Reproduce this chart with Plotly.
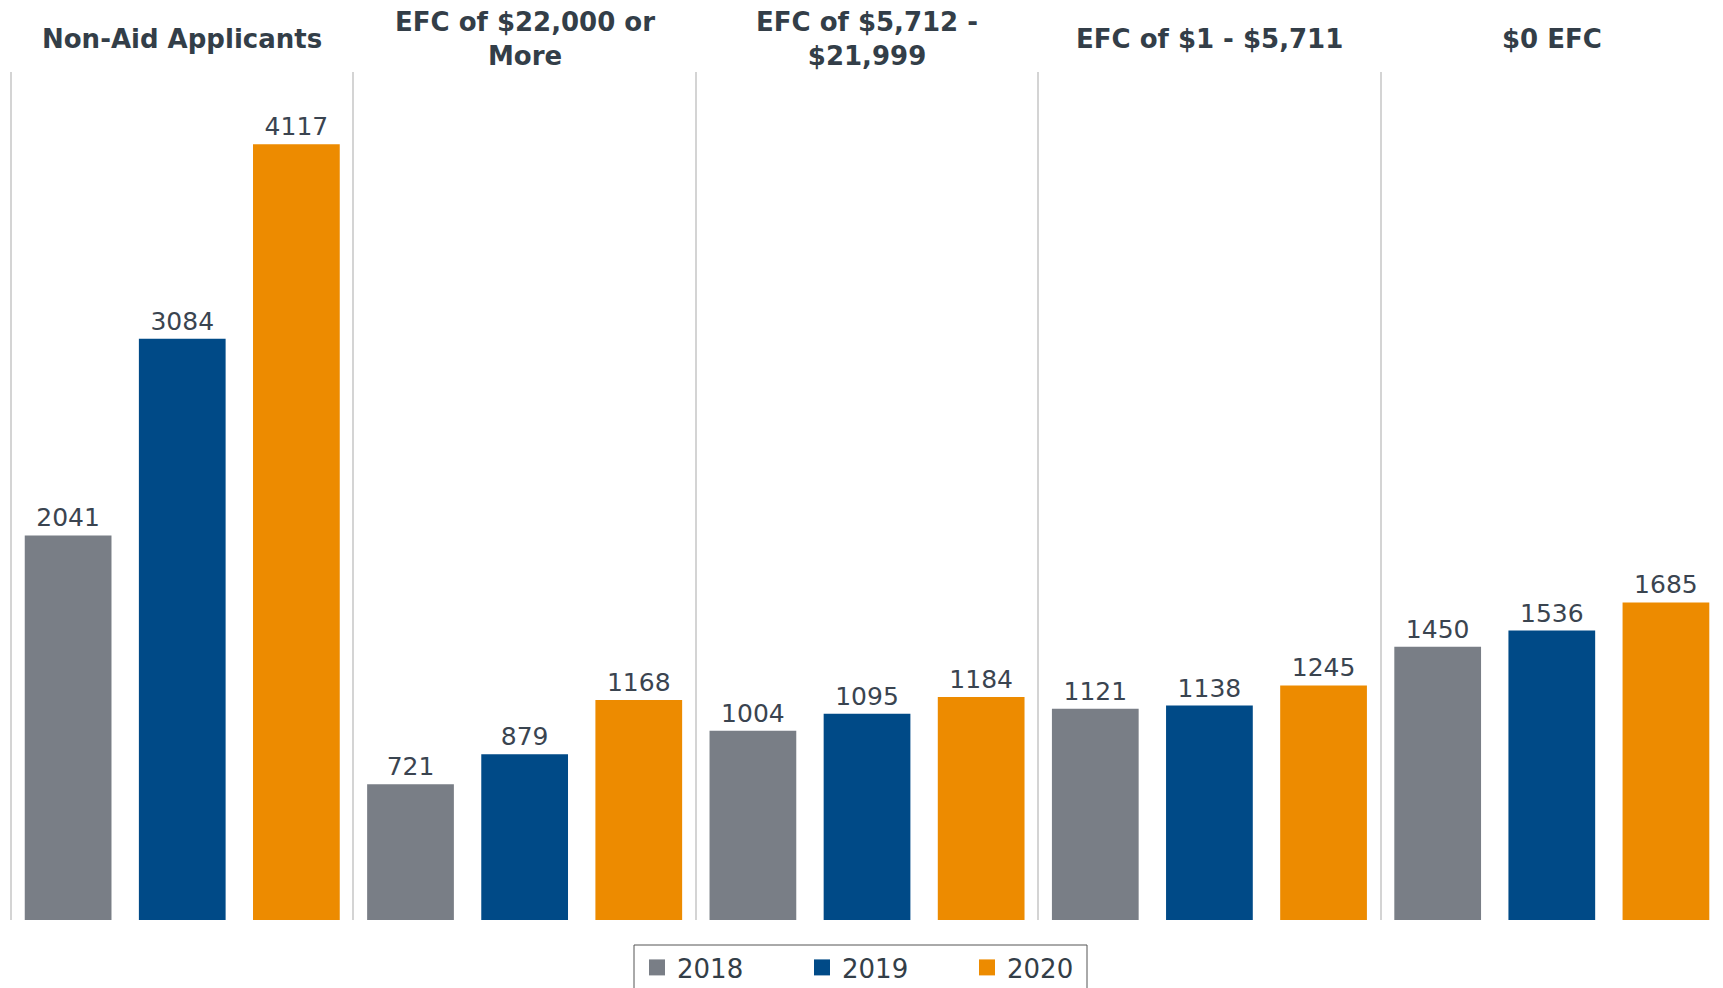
import plotly.graph_objects as go

categories = ["Non-Aid Applicants", "EFC of $22,000 or More", "EFC of $5,712 - $21,999",
              "EFC of $1 - $5,711", "$0 EFC"]
title_labels = ["Non-Aid Applicants", "EFC of $22,000 or<br>More", "EFC of $5,712 -<br>$21,999",
                "EFC of $1 - $5,711", "$0 EFC"]
series_names = ["2018", "2019", "2020"]
values_2018 = [2041, 721, 1004, 1121, 1450]
values_2019 = [3084, 879, 1095, 1138, 1536]
values_2020 = [4117, 1168, 1184, 1245, 1685]

colors = ["#797e86", "#004a87", "#ed8b00"]
FONT = "DejaVu Sans"
TEXT_COLOR = "#333e48"

W, H = 1723, 988
ML, MR, MT, MB = 9, 0, 72, 68

fig = go.Figure()
for name, vals, col in zip(series_names, [values_2018, values_2019, values_2020], colors):
    fig.add_trace(go.Bar(
        x=categories, y=vals, name=name, marker_color=col, marker_line_width=0,
        text=[str(v) for v in vals], textposition="outside", cliponaxis=False,
        constraintext="none",
        textfont=dict(family=FONT, size=25, color="#3a4450"),
        showlegend=False,
    ))
# legend entries with larger square symbols
for name, col in zip(series_names, colors):
    fig.add_trace(go.Scatter(
        x=[None], y=[None], mode="markers", name=name,
        marker=dict(symbol="square", size=16, color=col),
        showlegend=True,
    ))

for cat, lab in zip(categories, title_labels):
    fig.add_annotation(
        x=cat, xref="x", y=1, yref="paper", yanchor="middle", yshift=33,
        text="<b>" + lab + "</b>", showarrow=False,
        font=dict(family=FONT, size=26, color=TEXT_COLOR),
    )

# legend frame (pixel positions converted to paper units)
plot_w = W - ML - MR
plot_h = H - MT - MB
box_left, box_right, box_top, box_bottom = 634, 1087, 945, 1000
fig.add_shape(
    type="rect", xref="paper", yref="paper",
    x0=(box_left - ML) / plot_w, x1=(box_right - ML) / plot_w,
    y0=(H - MB - box_top) / plot_h, y1=(H - MB - box_bottom) / plot_h,
    line=dict(color="#555555", width=1), fillcolor="rgba(0,0,0,0)", layer="above",
)

fig.update_layout(
    width=W, height=H,
    margin=dict(l=ML, r=MR, t=MT, b=MB),
    paper_bgcolor="white", plot_bgcolor="white",
    barmode="group", bargap=0.0, bargroupgap=0.24,
    font=dict(family=FONT, color=TEXT_COLOR),
    legend=dict(
        orientation="h", xref="container", yref="container",
        x=637 / W, xanchor="left", y=(H - 944) / H, yanchor="top",
        font=dict(family=FONT, size=26, color=TEXT_COLOR),
        borderwidth=0, bgcolor="rgba(0,0,0,0)",
        entrywidth=120, entrywidthmode="pixels",
        itemclick=False, itemdoubleclick=False,
    ),
    xaxis=dict(
        type="category", range=[-0.506, 4.5], showticklabels=False, ticks="",
        showgrid=True, tickson="boundaries", gridcolor="#d4d4d4", gridwidth=2,
        zeroline=False, showline=False, fixedrange=True,
    ),
    yaxis=dict(
        range=[0, 4500], showticklabels=False, showgrid=False, zeroline=False,
        showline=False, fixedrange=True,
    ),
)

fig.write_html(
    "out.html",
    config={"displayModeBar": False},
    post_script="document.body.style.margin='0';document.body.style.overflow='hidden';",
)
